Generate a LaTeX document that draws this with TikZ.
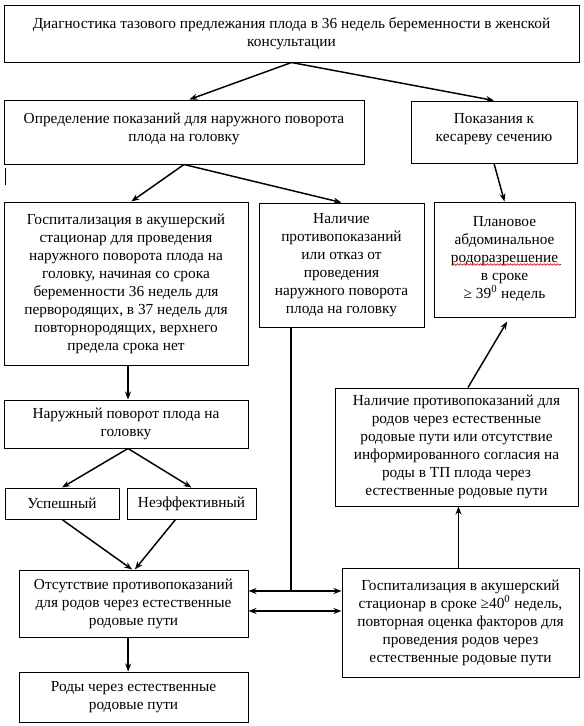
\documentclass[tikz,border=0pt]{standalone}
\usepackage{fontspec}
\setmainfont{Liberation Serif}
\usetikzlibrary{positioning}
\usetikzlibrary{arrows.meta,decorations.pathmorphing}

\tikzset{
  box/.style={draw, line width=0.75pt, align=center, inner sep=2pt,
    font=\fontsize{11.5}{13.5}\selectfont},
  arr/.style={line width=1.1pt, -{Stealth[length=6pt,width=4.5pt]}},
  dbl/.style={line width=1.1pt, {Stealth[length=6pt,width=4.5pt]}-{Stealth[length=6pt,width=4.5pt]}},
  wavy/.style={red, line width=0.5pt, decorate,
    decoration={snake, amplitude=0.6pt, segment length=2.5pt}}
}

\begin{document}
\begin{tikzpicture}[x=0.75pt,y=-0.75pt]
  \useasboundingbox (0,0) rectangle (584,726);
  \node(diag) [box, minimum width=431.25pt, minimum height=42.75pt] at (291.5,33.5)
    {Диагностика тазового предлежания плода в 36 недель беременности в женской\\консультации};
  \node(opred) [box, minimum width=270pt, minimum height=48pt] at (184,132)
    {Определение показаний для наружного поворота\\плода на головку\\[-7pt]};
  \node(kesar) [box, minimum width=124.5pt, minimum height=46.5pt] at (494,132)
    {Показания к\\кесареву сечению\\[-7pt]};
  \node(gosp) [box, minimum width=183pt, minimum height=122.25pt] at (126,283.5)
    {Госпитализация в акушерский\\стационар для проведения\\наружного поворота плода на\\головку, начиная со срока\\беременности 36 недель для\\первородящих, в 37 недель для\\повторнородящих, верхнего\\предела срока нет};
  \node(protiv) [box, minimum width=123.75pt, minimum height=93pt] at (341.5,265)
    {Наличие\\противопоказаний\\или отказ от\\проведения\\наружного поворота\\плода на головку};
  \node(plan) [box, minimum width=105.75pt, minimum height=86.25pt] at (504.5,259.5)
    {Плановое\\абдоминальное\\родоразрешение\\в сроке\\≥ 39\textsuperscript{0} недель\\[-10pt]};
  \node(povorot) [box, minimum width=183pt, minimum height=36pt, below=25.5pt of gosp]
    {Наружный поворот плода на\\головку};
  \node(uspeh) [box, minimum width=85.5pt, minimum height=23.25pt] at (62,503.5) {Успешный};
  \node(neeff) [box, minimum width=96.75pt, minimum height=23.25pt] at (191.5,503.5) {Неэффективный};
  \node(otsut) [box, minimum width=171.75pt, minimum height=50.25pt] at (133.5,603.5)
    {Отсутствие противопоказаний\\для родов через естественные\\родовые пути};
  \node(rody) [box, minimum width=171.75pt, minimum height=37.5pt, below=25.5pt of otsut]
    {Роды через естественные\\родовые пути};
  \node(nalich) [box, minimum width=182.25pt, minimum height=88.5pt] at (456.5,447)
    {Наличие противопоказаний для\\родов через естественные\\родовые пути или отсутствие\\информированного согласия на\\роды в ТП плода через\\естественные родовые пути};
  \node(gospb) [box, minimum width=177.75pt, minimum height=81.75pt] at (460.5,622.5)
    {Госпитализация в акушерский\\стационар в сроке ≥40\textsuperscript{0} недель,\\повторная оценка факторов для\\проведения родов через\\естественные родовые пути};
  \coordinate(junc) at (291,591);

  \draw[arr] (diag.south) -- ([xshift=4pt]opred.north);
  \draw[arr] (diag.south) -- (kesar.north);
  \draw[arr] (opred.south) -- ([xshift=4pt]gosp.north);
  \draw[arr] (opred.south) -- (protiv.north);
  \draw[arr] (kesar.south) -- (plan.north);
  \draw[arr] ([xshift=1.5pt]gosp.south) -- ([xshift=1.5pt]povorot.north);
  \draw[arr] ([xshift=1.5pt]povorot.south) -- (uspeh.north);
  \draw[arr] ([xshift=1.5pt]povorot.south) -- (neeff.north);
  \draw[arr] (uspeh.south) -- ([xshift=-1pt]otsut.north);
  \draw[arr] ([xshift=-12pt]neeff.south) -- ([xshift=1pt]otsut.north);
  \draw[arr] ([xshift=-4pt]otsut.south) -- ([xshift=-4pt]rody.north);
  \draw[line width=1.1pt] (junc |- protiv.south) -- (junc);
  \draw[arr] (junc) -- (junc -| otsut.east);
  \draw[arr] (junc) -- (junc -| gospb.west);
  \draw[dbl] ([yshift=-5.6pt]otsut.east) -- ([yshift=-5.6pt]otsut.east -| gospb.west);
  \draw[arr] ([xshift=-1.5pt]gospb.north) -- ([xshift=-1.5pt]gospb.north |- nalich.south);
  \draw[arr] ([xshift=8.6pt]nalich.north) -- ([xshift=2pt,yshift=-3pt]plan.south);
  \draw[wavy] (453,264.5) -- (561,264.5);
  \draw[line width=0.75pt] (5,168) -- (5,185);
\end{tikzpicture}
\end{document}
